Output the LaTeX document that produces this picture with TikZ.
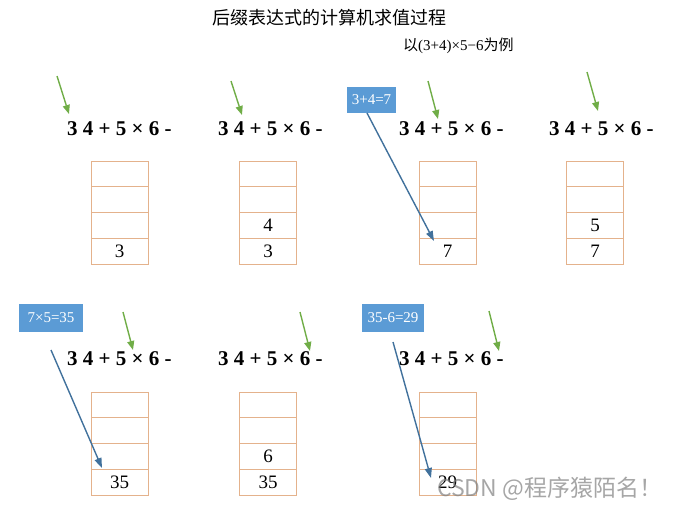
\documentclass[tikz,border=0pt]{standalone}
\usepackage{fontspec}
\setmainfont{Liberation Serif}
\newfontfamily\cjk{Noto Sans CJK SC}
\usetikzlibrary{arrows.meta}
\definecolor{stackline}{RGB}{228,178,140}
\definecolor{ptrgreen}{RGB}{112,173,71}
\definecolor{opfill}{RGB}{91,155,213}
\definecolor{oparrow}{RGB}{65,113,156}
\tikzset{
  expr/.style={anchor=base west, inner sep=0pt, font=\fontsize{21}{21}\selectfont\bfseries},
  cell/.style={draw=stackline, line width=0.8pt, minimum width=57pt, minimum height=25.75pt, inner sep=0pt, font=\fontsize{18}{18}\selectfont},
  celltext/.style={font=\fontsize{19}{19}\selectfont},
  oplabel/.style={fill=opfill, text=white, inner sep=0pt, font=\fontsize{15}{15}\selectfont},
  greenptr/.style={draw=ptrgreen, line width=1.4pt, -{Triangle[length=9pt,width=7pt]}},
  blueptr/.style={draw=oparrow, line width=1.4pt, -{Triangle[length=10pt,width=7pt]}},
}
\begin{document}
\begin{tikzpicture}[x=1pt,y=-1pt]
\useasboundingbox (0,0) rectangle (673,509);
% title
\node[font=\cjk\fontsize{18}{18}\selectfont, inner sep=0pt] (title) at (329,18) {后缀表达式的计算机求值过程};
\node[font=\fontsize{15}{15}\selectfont, inner sep=0pt, anchor=west] (sub) at (403,46) {{\cjk 以}(3+4)×5−6{\cjk 为例}};
% expressions
\foreach \n/\x/\y in {e1/67/135, e2/218/135, e3/399/135, e4/549/135, e5/67/365, e6/218/365, e7/399/365}{
  \node[expr] (\n) at (\x,\y) {3 4 + 5 × 6 -};
}
% stacks
\foreach \s/\x/\y in {1/119.5/161, 2/268/161, 3/447.5/161, 4/595/161, 5/119.5/392, 6/268/392, 7/447.5/392}{
  \foreach \k in {1,2,3,4}{
    \node[cell] (s\s c\k) at (\x,{\y+12.875+25.75*(\k-1)}) {};
  }
}
\node[celltext] (v1a) at (s1c4) {3};
\node[celltext] (v2a) at (s2c3) {4};
\node[celltext] (v2b) at (s2c4) {3};
\node[celltext] (v3a) at (s3c4) {7};
\node[celltext] (v4a) at (s4c3) {5};
\node[celltext] (v4b) at (s4c4) {7};
\node[celltext] (v5a) at (s5c4) {35};
\node[celltext] (v6a) at (s6c3) {6};
\node[celltext] (v6b) at (s6c4) {35};
\node[celltext] (v7a) at (s7c4) {29};
% green pointers
\foreach \i/\ax/\ay/\bx/\by in {1/57/76/69/114, 2/231/81/242/115, 3/428/81/438/119, 4/587/72/598/111, 5/123/312/133/350, 6/300/312/310/351, 7/489/311/499/351}{
  \coordinate (g\i a) at (\ax,\ay);
  \coordinate (g\i b) at (\bx,\by);
  \draw[greenptr] (g\i a) -- (g\i b);
}
% operation labels
\node[oplabel, minimum width=49pt, minimum height=26pt] (op1) at (371.5,100) {3+4=7};
\node[oplabel, minimum width=64pt, minimum height=28pt] (op2) at (51,318) {7×5=35};
\node[oplabel, minimum width=62pt, minimum height=28pt] (op3) at (393,318) {35-6=29};
\coordinate (op1s) at (367,113);
\coordinate (op1e) at (434,241);
\coordinate (op2s) at (51,350);
\coordinate (op2e) at (102,468);
\coordinate (op3s) at (393,342);
\coordinate (op3e) at (431,478);
\draw[blueptr] (op1s) -- (op1e);
\draw[blueptr] (op2s) -- (op2e);
\draw[blueptr] (op3s) -- (op3e);
% watermark
\node[font=\cjk\fontsize{23}{23}\selectfont, text=gray, opacity=0.7, anchor=base west, inner sep=0pt] (wm) at (437,496) {CSDN @程序猿陌名！};
\end{tikzpicture}
\end{document}
